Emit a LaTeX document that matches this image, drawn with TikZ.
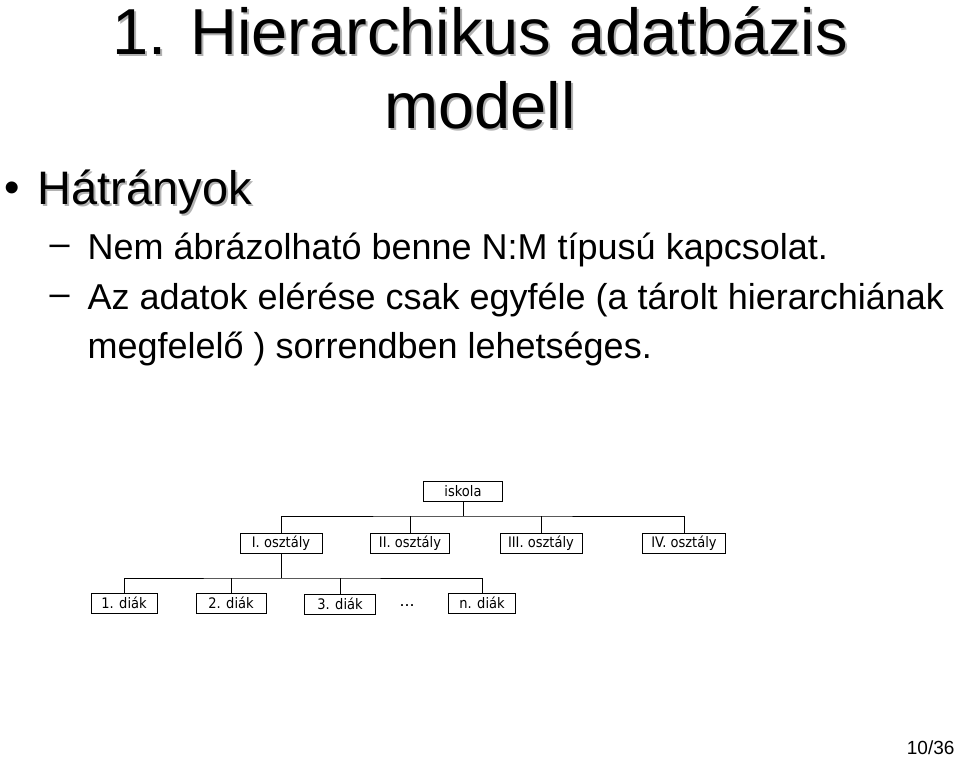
\documentclass[tikz,border=0pt]{standalone}
\usepackage{fontspec}
\setmainfont{Liberation Sans}
\newfontfamily\boxfont{DejaVu Sans Condensed}
\begin{document}
\begin{tikzpicture}[x=1pt,y=-1pt,
  bx/.style={draw,line width=0.8pt,font=\boxfont\fontsize{14.5}{16}\selectfont,inner sep=0pt,minimum height=20pt},
  ln/.style={line width=0.8pt},
  ttl/.style={font=\fontsize{65}{70}\selectfont},
  shd/.style={ttl,text=gray!60},
  txt/.style={font=\fontsize{36}{40}\selectfont,anchor=west}]
\useasboundingbox (0,0) rectangle (960,759);
% title
\node[shd] at (482,33) {1. Hierarchikus adatbázis};
\node[ttl] (t1) at (480,31) {1. Hierarchikus adatbázis};
\node[shd] at (482,107) {modell};
\node[ttl] (t2) at (480,105) {modell};
% bullets
\node[font=\fontsize{44}{48}\selectfont] (b) at (12,192) {•};
\node[font=\fontsize{47}{50}\selectfont,text=gray!60,anchor=west] at (36,194) {Hátrányok};
\node[font=\fontsize{47}{50}\selectfont,anchor=west] (h) at (34,192) {Hátrányok};
\node[txt] (d1) at (46,250) {–};
\node[txt] (l1) at (84,250) {Nem ábrázolható benne N:M típusú kapcsolat.};
\node[txt] (d2) at (46,300) {–};
\node[txt] (l2) at (84,300) {Az adatok elérése csak egyféle (a tárolt hierarchiának};
\node[txt] (l3) at (84,349) {megfelelő ) sorrendben lehetséges.};
% tree
\node[bx,minimum width=79pt] (isk) at (463,491) {iskola};
\node[bx,minimum width=82pt] (o1) at (281,543) {I. osztály};
\node[bx,minimum width=79pt] (o2) at (410,543) {II. osztály};
\node[bx,minimum width=82pt] (o3) at (541,543) {III. osztály};
\node[bx,minimum width=83pt] (o4) at (684,543) {IV. osztály};
\node[bx,minimum width=66pt] (s1) at (124,603) {1. diák};
\node[bx,minimum width=70pt] (s2) at (231,603) {2. diák};
\node[bx,minimum width=71pt] (s3) at (340,604) {3. diák};
\node[font=\fontsize{18}{20}\selectfont] (dots) at (407,606) {...};
\node[bx,minimum width=67pt] (sn) at (482,603) {n. diák};
\draw[ln] (isk.south) -- (463,516);
\draw[ln] (o1.north) |- (463,516) -| (o4.north);
\draw[ln] (o2.north) -- (o2.north |- 0,516);
\draw[ln] (o3.north) -- (o3.north |- 0,516);
\draw[ln] (o1.south) -- (281,578);
\draw[ln] (s1.north) |- (281,578) -| (sn.north);
\draw[ln] (s2.north) -- (s2.north |- 0,578);
\draw[ln] (s3.north) -- (s3.north |- 0,578);
\node[font=\fontsize{19}{22}\selectfont,anchor=east] (pg) at (958,748) {10/36};
\end{tikzpicture}
\end{document}
